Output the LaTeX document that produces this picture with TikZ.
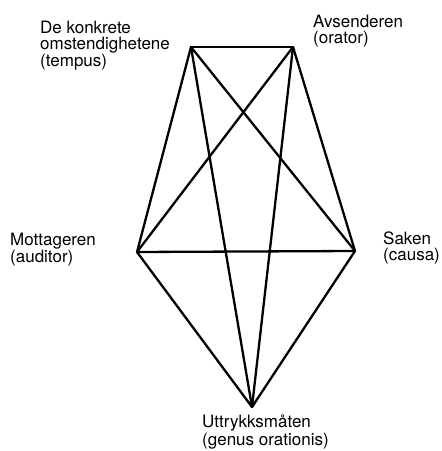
\documentclass[tikz,border=0pt]{standalone}
\usepackage{fontspec}
\setmainfont{TeX Gyre Heros}
\begin{document}
\begin{tikzpicture}[x=1pt,y=1pt,
  lbl/.style={font=\fontsize{17}{16}\selectfont,align=left,inner sep=0pt,anchor=north west},
  edge/.style={line width=2.3pt,line cap=round}]
\useasboundingbox (0,0) rectangle (442,451);
% corners of the pentagram
\coordinate (tempus) at (191,404);
\coordinate (orator) at (293,404);
\coordinate (auditor) at (137,199);
\coordinate (causa) at (355,200);
\coordinate (genus) at (252,44);
\node[lbl] (tempuslbl) at (40,430) {De konkrete\\omstendighetene\\(tempus)};
\node[lbl] (oratorlbl) at (313,436) {Avsenderen\\(orator)};
\node[lbl] (auditorlbl) at (10,218) {Mottageren\\(auditor)};
\node[lbl] (causalbl) at (383,219) {Saken\\(causa)};
\node[lbl] (genuslbl) at (202,36) {Uttrykksmåten\\(genus orationis)};
% every corner joined to every other
\foreach \a/\b in {tempus/orator,tempus/auditor,tempus/causa,tempus/genus,
  orator/auditor,orator/causa,orator/genus,auditor/causa,auditor/genus,causa/genus}
  \draw[edge] (\a) -- (\b);
\end{tikzpicture}
\end{document}
